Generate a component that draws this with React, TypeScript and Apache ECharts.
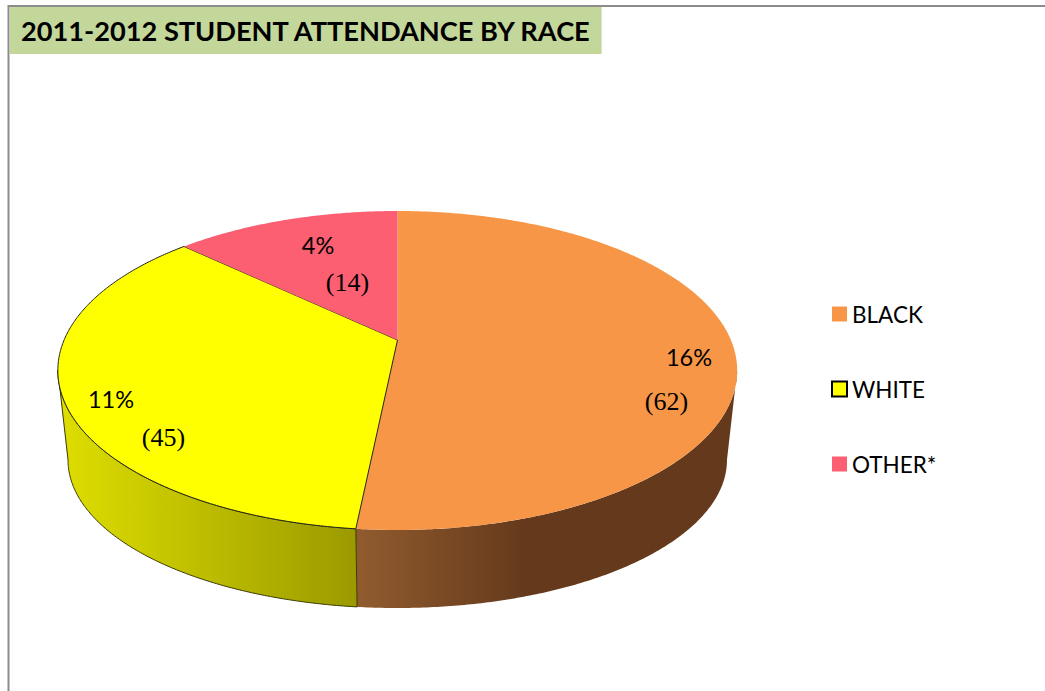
import React, { useEffect, useRef } from "react";
import * as echarts from "echarts";

const TITLE = "2011-2012 STUDENT ATTENDANCE BY RACE";
const categories = ["BLACK", "WHITE", "OTHER*"];
const percents = [16, 11, 4];
const counts = [62, 45, 14];

const topColors = ["#F79646", "#FFFF00", "#FB5F71"];
const percentPos = [[689, 357], [111, 399], [318, 245]];
const countPos = [[666.5, 401], [163.5, 437], [347.5, 282]];

const CX = 397.5;
const APEX_Y = 340;
const R = 333.4;
const PERSPECTIVE = -0.1912;
const Y_GAIN = 88.65;
const WALL_FROM = 101;
const WALL_TO = 259;

function topPoint(deg: number): [number, number] {
  const t = (deg * Math.PI) / 180;
  const u = Math.sin(t);
  const v = -Math.cos(t);
  const d = 1 + PERSPECTIVE * v;
  return [CX + (R * u) / d, (Y_GAIN * v + APEX_Y) / d];
}
function bottomPoint(deg: number): [number, number] {
  const [x, y] = topPoint(deg);
  return [397.5 + (x - 397.5) * 0.97, 460 + (y - 370.5) * 0.928];
}
function arc(from: number, to: number, fn: (d: number) => [number, number]) {
  const out: [number, number][] = [];
  const n = Math.max(2, Math.ceil((to - from) * 2));
  for (let i = 0; i <= n; i++) out.push(fn(from + ((to - from) * i) / n));
  return out;
}

function wallFill(index: number) {
  if (index === 0) {
    return new echarts.graphic.LinearGradient(357, 0, 735, 0, [
      { offset: 0, color: "#915B2E" },
      { offset: 0.44, color: "#653A1C" },
      { offset: 1, color: "#653A1C" },
    ], true);
  }
  return new echarts.graphic.LinearGradient(60, 0, 357, 0, [
    { offset: 0, color: "#DEDE00" },
    { offset: 1, color: "#9A9A00" },
  ], true);
}

const total = percents.reduce((a, b) => a + b, 0);

function renderSlice(index: number) {
  const start = (percents.slice(0, index).reduce((a, b) => a + b, 0) / total) * 360;
  const end = start + (percents[index] / total) * 360;
  const stroked = index === 1;
  const children: any[] = [];
  const wFrom = Math.max(start, WALL_FROM);
  const wTo = Math.min(end, WALL_TO);
  if (wTo > wFrom) {
    const upper = arc(wFrom, wTo, topPoint);
    const lower = arc(wFrom, wTo, bottomPoint).reverse();
    children.push({
      type: "polygon",
      shape: { points: [...upper, ...lower] },
      style: {
        fill: wallFill(index),
        stroke: stroked ? "#3a3a00" : "none",
        lineWidth: stroked ? 1 : 0,
      },
    });
  }
  children.push({
    type: "polygon",
    shape: { points: [[CX, APEX_Y], ...arc(start, end, topPoint)] },
    style: {
      fill: topColors[index],
      stroke: stroked ? "#222222" : "none",
      lineWidth: stroked ? 1 : 0,
    },
  });
  children.push({
    type: "text",
    style: {
      text: `${percents[index]}%`,
      x: percentPos[index][0],
      y: percentPos[index][1],
      align: "center",
      verticalAlign: "middle",
      font: "23.5px Lato",
      fill: "#000000",
    },
  });
  children.push({
    type: "text",
    style: {
      text: `(${counts[index]})`,
      x: countPos[index][0],
      y: countPos[index][1],
      align: "center",
      verticalAlign: "middle",
      font: '26px "Liberation Serif"',
      fill: "#000000",
    },
  });
  return { type: "group", children };
}

export default function App() {
  const ref = useRef<HTMLDivElement>(null);
  useEffect(() => {
    document.body.style.margin = "0";
    const chart = echarts.init(ref.current!, undefined, { renderer: "svg" });
    chart.setOption({
      animation: false,
      backgroundColor: "#FFFFFF",
      title: {
        text: TITLE,
        left: 10,
        top: 7,
        padding: [8, 9, 8, 11],
        backgroundColor: "#C4D79B",
        textStyle: {
          fontFamily: "Lato",
          fontWeight: "bold",
          fontSize: 27.2,
          lineHeight: 31,
          color: "#000000",
        },
      },
      legend: {
        orient: "vertical",
        left: 831,
        top: 302,
        icon: "rect",
        itemWidth: 15,
        itemHeight: 15,
        itemGap: 51,
        selectedMode: false,
        padding: 0,
        textStyle: {
          fontFamily: "Lato",
          fontSize: 22.5,
          lineHeight: 24,
          color: "#000000",
          padding: [0, 0, 0, 0],
        },
        data: categories.map((name, i) => ({
          name,
          itemStyle: {
            color: topColors[i],
            borderColor: i === 1 ? "#000000" : "transparent",
            borderWidth: i === 1 ? 2 : 0,
          },
        })),
      },
      graphic: [
        {
          type: "polyline",
          shape: { points: [[8.5, 691], [8.5, 6], [1045, 6]] },
          style: { stroke: "#8C8C8C", lineWidth: 2, fill: "none" },
          z: 0,
        },
      ],
      series: categories.map((name, i) => ({
        type: "custom",
        name,
        coordinateSystem: "none",
        itemStyle: { color: topColors[i] },
        data: [[percents[i], counts[i]]],
        renderItem: () => renderSlice(i),
        silent: true,
      })),
    });
    return () => chart.dispose();
  }, []);
  return <div ref={ref} style={{ width: 1045, height: 691, overflow: "hidden" }} />;
}
